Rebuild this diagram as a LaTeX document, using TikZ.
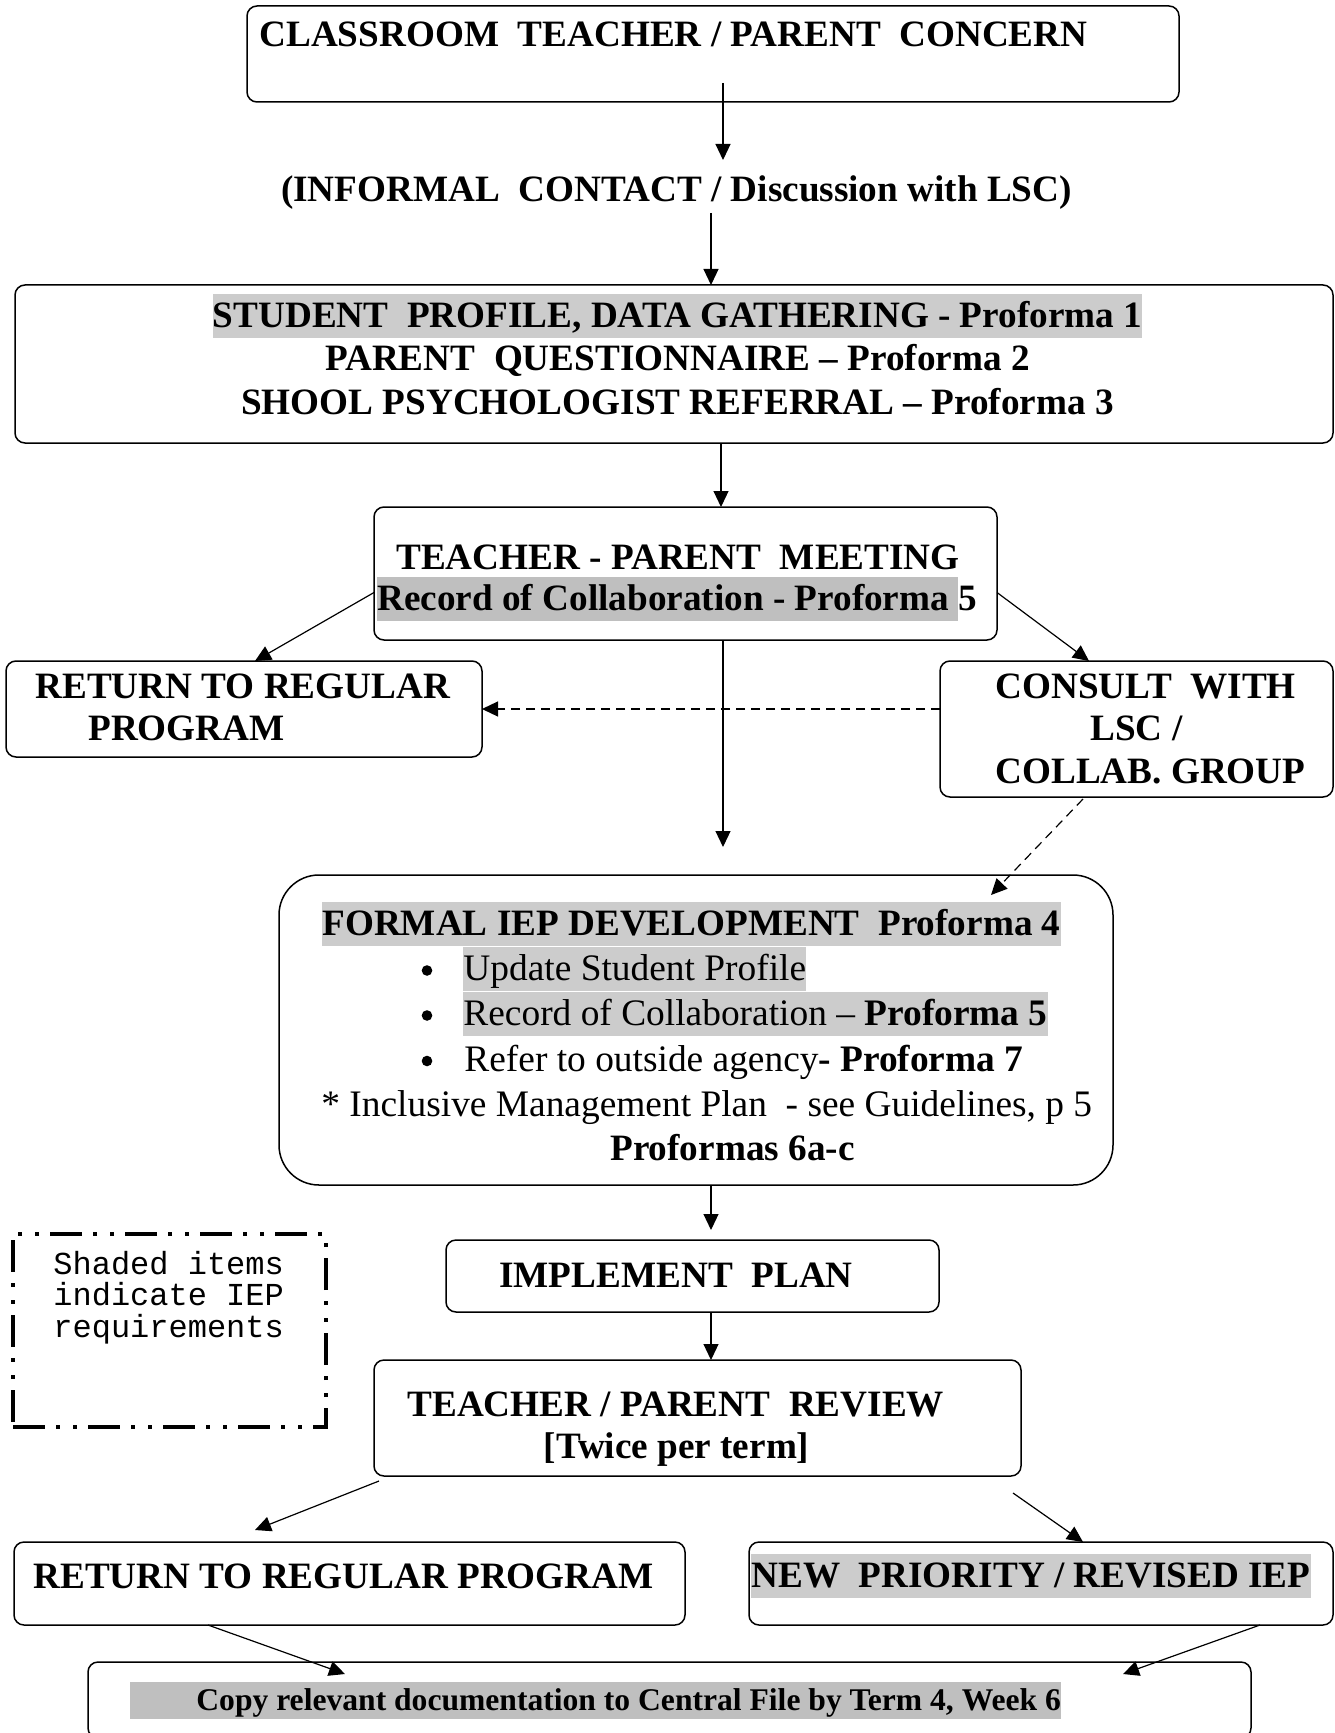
\documentclass[tikz,border=0pt]{standalone}
\usepackage{fontspec}
\setmainfont{Liberation Serif}
\setmonofont{Liberation Mono}
\usetikzlibrary{arrows.meta,calc}

\definecolor{hlA}{gray}{0.8}
\definecolor{hlB}{gray}{0.75}
% grey background behind a piece of text
\newcommand{\greybg}[2]{{\setlength{\fboxsep}{0pt}\colorbox{#1}{\rule[-0.28em]{0pt}{1.18em}#2}}}

\begin{document}
\begin{tikzpicture}[x=0.5pt, y=-0.5pt,
    flowbox/.style={draw, line width=0.75pt, rounded corners=5pt, inner sep=0pt, outer sep=0pt},
    bftxt/.style={inner sep=0pt, font=\fontsize{18.6}{22}\selectfont\bfseries},
    rmtxt/.style={inner sep=0pt, font=\fontsize{18.7}{22}\selectfont},
    legtxt/.style={inner sep=0pt, anchor=base west, font=\fontsize{16}{15.75}\selectfont\ttfamily},
    arr/.style={line width=0.6pt, -{Triangle[length=8pt, width=7.5pt]}},
    dasharr/.style={arr, dash pattern=on 4.5pt off 3pt}]
  \path[use as bounding box, fill=white] (0,0) rectangle (1334,1733);

  % boxes
  \node[flowbox, minimum width=466pt, minimum height=48pt] (topbox) at (713,54) {};
  \node[flowbox, minimum width=659pt, minimum height=79pt] (databox) at (674,364) {};
  \node[flowbox, minimum width=311.5pt, minimum height=66.5pt] (meet) at (685.5,573.5) {};
  \node[flowbox, minimum width=238pt, minimum height=48pt] (ret1) at (244,709) {};
  \node[flowbox, minimum width=196.5pt, minimum height=68pt] (consult) at (1136.5,729) {};
  \node[flowbox, rounded corners=20pt, minimum width=417pt, minimum height=155pt] (formal) at (696,1030) {};
  \node[flowbox, minimum width=246.5pt, minimum height=36pt] (impl) at (692.5,1276) {};
  \node[draw, line width=1.6pt, inner sep=0pt, outer sep=0pt, minimum width=156.5pt, minimum height=96.5pt,
    dash pattern=on 16pt off 5.5pt on 2pt off 6.5pt on 2pt off 5.5pt] (legend) at (169.5,1330.5) {};
  \node[flowbox, minimum width=323.5pt, minimum height=58pt] (review) at (697.5,1418) {};
  \node[flowbox, minimum width=335.5pt, minimum height=41.5pt] (ret2) at (349.5,1583.5) {};
  \node[flowbox, minimum width=292pt, minimum height=41.5pt] (new) at (1041,1583.5) {};
  \node[flowbox, minimum width=581.5pt, minimum height=38pt] (copy) at (669.5,1700) {};

  % texts
  \node[bftxt, anchor=base west] (toptxt) at (259,47) {CLASSROOM~~TEACHER / PARENT~~CONCERN};
  \node[bftxt, anchor=base] (informal) at (676.5,202) {(INFORMAL~~CONTACT / Discussion with LSC)};
  \node[bftxt, anchor=base] (data1) at (677.5,327.5) {\greybg{hlA}{STUDENT~~PROFILE, DATA GATHERING - Proforma 1}};
  \node[bftxt, anchor=base] (data2) at (677.5,371) {PARENT~~QUESTIONNAIRE – Proforma 2};
  \node[bftxt, anchor=base] (data3) at (677.5,414) {SHOOL PSYCHOLOGIST REFERRAL – Proforma 3};
  \node[bftxt, anchor=base] (meet1) at (678,569) {TEACHER - PARENT~~MEETING};
  \node[bftxt, anchor=base west] (meet2) at (377,610.5) {\greybg{hlB}{Record of Collaboration - Proforma\ }5};
  \node[bftxt, anchor=base west] (ret1a) at (35,698) {RETURN TO REGULAR};
  \node[bftxt, anchor=base west] (ret1b) at (88,740) {PROGRAM};
  \node[bftxt, anchor=base west] (cons1) at (995,698) {CONSULT~~WITH};
  \node[bftxt, anchor=base west] (cons2) at (1090,740) {LSC /};
  \node[bftxt, anchor=base west] (cons3) at (995,783) {COLLAB. GROUP};
  \node[bftxt, anchor=base west] (form1) at (322,935.5) {\greybg{hlA}{FORMAL IEP DEVELOPMENT~~Proforma 4}};
  \foreach \y in {980.5,1025.5,1071}
    \node[circle, fill, inner sep=0pt, minimum size=5.3pt] (bul\y) at (427,\y-10) {};
  \node[rmtxt, anchor=base west] (form2) at (463,980.5) {\greybg{hlA}{Update Student Profile}};
  \node[rmtxt, anchor=base west] (form3) at (463,1025.5) {\greybg{hlA}{Record of Collaboration – \textbf{Proforma 5}}};
  \node[rmtxt, anchor=base west] (form4) at (464,1071) {Refer to outside agency\textbf{- Proforma 7}};
  \node[rmtxt, anchor=base west] (form5) at (321,1116) {* Inclusive Management Plan~~- see Guidelines, p 5};
  \node[bftxt, anchor=base west] (form6) at (610,1160) {Proformas 6a-c};
  \node[bftxt, anchor=base west] (impltxt) at (499,1287) {IMPLEMENT~~PLAN};
  \node[legtxt] (legtxt1) at (53,1274) {Shaded items};
  \node[legtxt] (legtxt2) at (53,1305.5) {indicate IEP};
  \node[legtxt] (legtxt3) at (53,1337) {requirements};
  \node[bftxt, anchor=base west] (rev1) at (407,1416) {TEACHER / PARENT~~REVIEW};
  \node[bftxt, anchor=base] (rev2) at (676.5,1458) {[Twice per term]};
  \node[bftxt, anchor=base west] (ret2txt) at (33,1588) {RETURN TO REGULAR PROGRAM};
  \node[bftxt, anchor=base west] (newtxt) at (751,1587.5) {\greybg{hlA}{NEW~~PRIORITY / REVISED IEP}};
  \node[inner sep=0pt, anchor=base west, font=\fontsize{15.8}{18}\selectfont\bfseries] (copytxt) at (130,1710)
    {\greybg{hlB}{\hspace*{33pt}Copy relevant documentation to Central File by Term 4, Week 6}};

  % connectors
  \coordinate (c1) at (723,0);
  \coordinate (c2) at (711,0);
  \coordinate (c3) at (721,0);
  \draw[arr] ($(topbox.south -| c1)+(0,-19)$) -- +(0,77);
  \draw[arr] ($(databox.north -| c2)+(0,-72)$) -- (databox.north -| c2);
  \draw[arr] (databox.south -| c3) -- (meet.north -| c3);
  \draw[arr] ($(meet.west)+(0,19)$) -- ($(ret1.north)+(11,0)$);
  \draw[arr] ($(meet.east)+(0,19)$) -- ($(consult.north)+(-47.5,0)$);
  \draw[dasharr] (consult.west |- ret1.east) -- (ret1.east);
  \draw[arr] (meet.south -| c1) -- ($(formal.north -| c1)+(0,-28)$);
  \draw[dasharr] ($(consult.south)+(-53.5,2)$) -- ($(formal.north)+(295,20)$);
  \draw[arr] (formal.south -| c2) -- ($(impl.north -| c2)+(0,-10)$);
  \draw[arr] (impl.south -| c2) -- (review.north -| c2);
  \draw[arr] ($(review.south west)+(5,5)$) -- ($(ret2.north)+(-94.5,-12)$);
  \draw[arr] ($(review.south east)+(-8,17)$) -- ($(new.north)+(42,0)$);
  \draw[arr] ($(ret2.south)+(-141.5,0)$) -- ($(copy.north)+(-324.5,12)$);
  \draw[arr] ($(new.south)+(219,0)$) -- ($(copy.north)+(453.5,12)$);
\end{tikzpicture}
\end{document}
